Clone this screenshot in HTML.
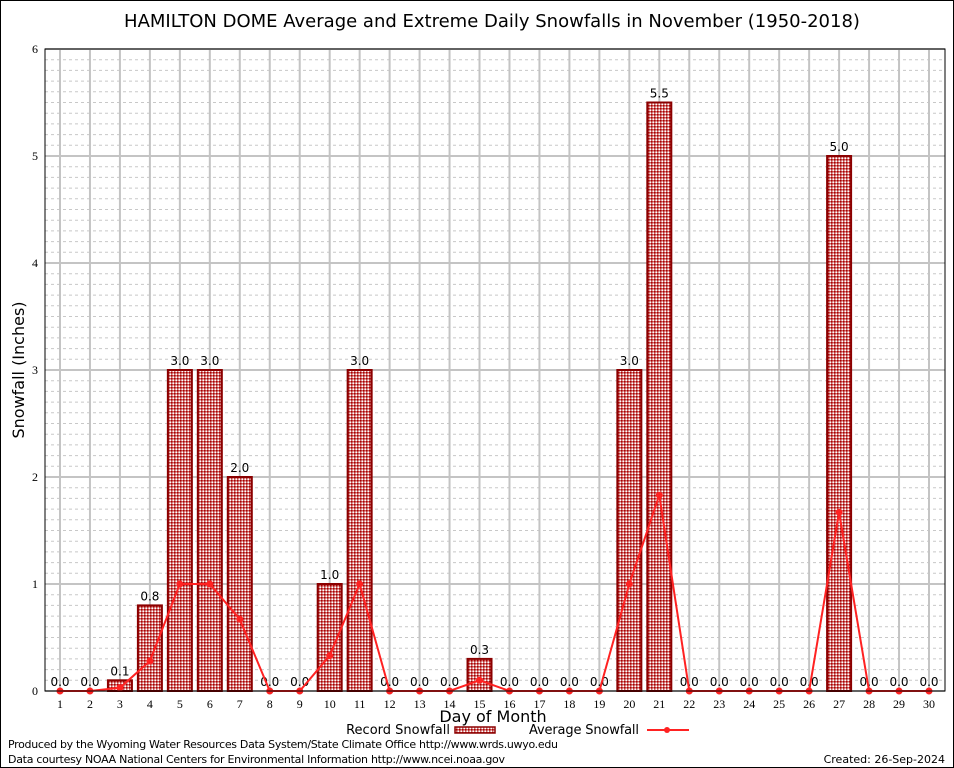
<!DOCTYPE html>
<html><head><meta charset="utf-8"><style>
body{margin:0;background:#fff}
svg{display:block;font-family:"DejaVu Sans","Liberation Sans",sans-serif}
</style></head><body>
<svg id="chart" width="954" height="768" viewBox="0 0 954 768">
<defs>
<pattern id="chk" width="3" height="3" patternUnits="userSpaceOnUse">
<rect width="3" height="3" fill="#c66"/>
<rect width="1.5" height="1.5" fill="#a00"/>
<rect x="1.5" y="1.5" width="1.5" height="1.5" fill="#fff"/>
</pattern>
</defs>
<rect x="0.5" y="0.5" width="953" height="767" fill="#fff" stroke="#000"/>
<text x="492" y="27" font-size="18" text-anchor="middle">HAMILTON DOME Average and Extreme Daily Snowfalls in November (1950-2018)</text>
<g id="grid"></g>
<g id="bars"></g>
<g id="avg"></g>
<rect x="45" y="49" width="900" height="642" fill="none" stroke="#000"/>
<g id="axes"></g>
<text x="493" y="722" font-size="16" text-anchor="middle">Day of Month</text>
<text transform="translate(24,370) rotate(-90)" font-size="16" text-anchor="middle">Snowfall (Inches)</text>
<g>
<text x="450" y="734" font-size="13" text-anchor="end">Record Snowfall</text>
<rect x="455" y="727" width="40" height="6" fill="url(#chk)" stroke="#8b0000" stroke-width="1.5"/>
</g>
<g>
<text x="529" y="734" font-size="13" textLength="110">Average Snowfall</text>
<line x1="647" y1="730" x2="689" y2="730" stroke="#f22" stroke-width="2"/>
<circle cx="667" cy="730" r="3" fill="#f22"/>
</g>
<text x="8" y="748" font-size="11" textLength="550">Produced by the Wyoming Water Resources Data System/State Climate Office http://www.wrds.uwyo.edu</text>
<text x="8" y="763" font-size="11" textLength="497">Data courtesy NOAA National Centers for Environmental Information http://www.ncei.noaa.gov</text>
<text x="945" y="763" font-size="11" text-anchor="end">Created: 26-Sep-2024</text>
</svg>
<script>
const days=[1,2,3,4,5,6,7,8,9,10,11,12,13,14,15,16,17,18,19,20,21,22,23,24,25,26,27,28,29,30];
const records=[0,0,0.1,0.8,3,3,2,0,0,1,3,0,0,0,0.3,0,0,0,0,3,5.5,0,0,0,0,0,5,0,0,0];
const averages=[0,0,0.03,0.28,1,1,0.67,0,0,0.33,1,0,0,0,0.1,0,0,0,0,1,1.83,0,0,0,0,0,1.67,0,0,0];
const yTicks=[0,1,2,3,4,5,6];
const NS="http://www.w3.org/2000/svg";
const X=d=>60+(d-1)*(929-60)/29;
const Y=v=>691-v*(642/6);
function mk(tag,attrs,parent,txt){const e=document.createElementNS(NS,tag);for(const k in attrs)e.setAttribute(k,attrs[k]);if(txt!==undefined)e.textContent=txt;parent.appendChild(e);return e;}
const grid=document.getElementById('grid'),bars=document.getElementById('bars'),avg=document.getElementById('avg'),axes=document.getElementById('axes');
for(let i=1;i<60;i++){if(i%10===0)continue;const y=Y(i/10);
const l=mk('line',{x1:45,x2:945,y1:y,y2:y,stroke:'#c8c8c8','stroke-dasharray':'3,3','stroke-width':1},grid);

}
days.forEach(d=>{const l=mk('line',{x1:X(d),x2:X(d),y1:49,y2:691,stroke:'#c4c4c4','stroke-width':2},grid);


const t=mk('text',{x:X(d),y:708,'font-size':12,'text-anchor':'middle','font-family':'Liberation Serif, serif'},axes,String(d));

});
yTicks.forEach(v=>{const l=mk('line',{x1:45,x2:945,y1:Y(v),y2:Y(v),stroke:'#c4c4c4','stroke-width':2},grid);


const t=mk('text',{x:38,y:Y(v)+4,'font-size':12,'text-anchor':'end','font-family':'Liberation Serif, serif'},axes,String(v));

});
records.forEach((v,i)=>{const d=days[i];
if(v>0){const r=mk('rect',{x:X(d)-12,y:Y(v),width:24,height:Y(0)-Y(v),fill:'url(#chk)',stroke:'#8b0000','stroke-width':2},bars);

}
const t=mk('text',{x:X(d),y:Y(v)-5,'font-size':12,'text-anchor':'middle'},bars,v.toFixed(1));

});
const pl=mk('polyline',{points:averages.map((v,i)=>X(days[i])+','+Y(v)).join(' '),fill:'none',stroke:'#f22','stroke-width':2},avg);


averages.forEach((v,i)=>{const c=mk('circle',{cx:X(days[i]),cy:Y(v),r:3.5,fill:'#f22'},avg);

});
</script>
</body></html>
